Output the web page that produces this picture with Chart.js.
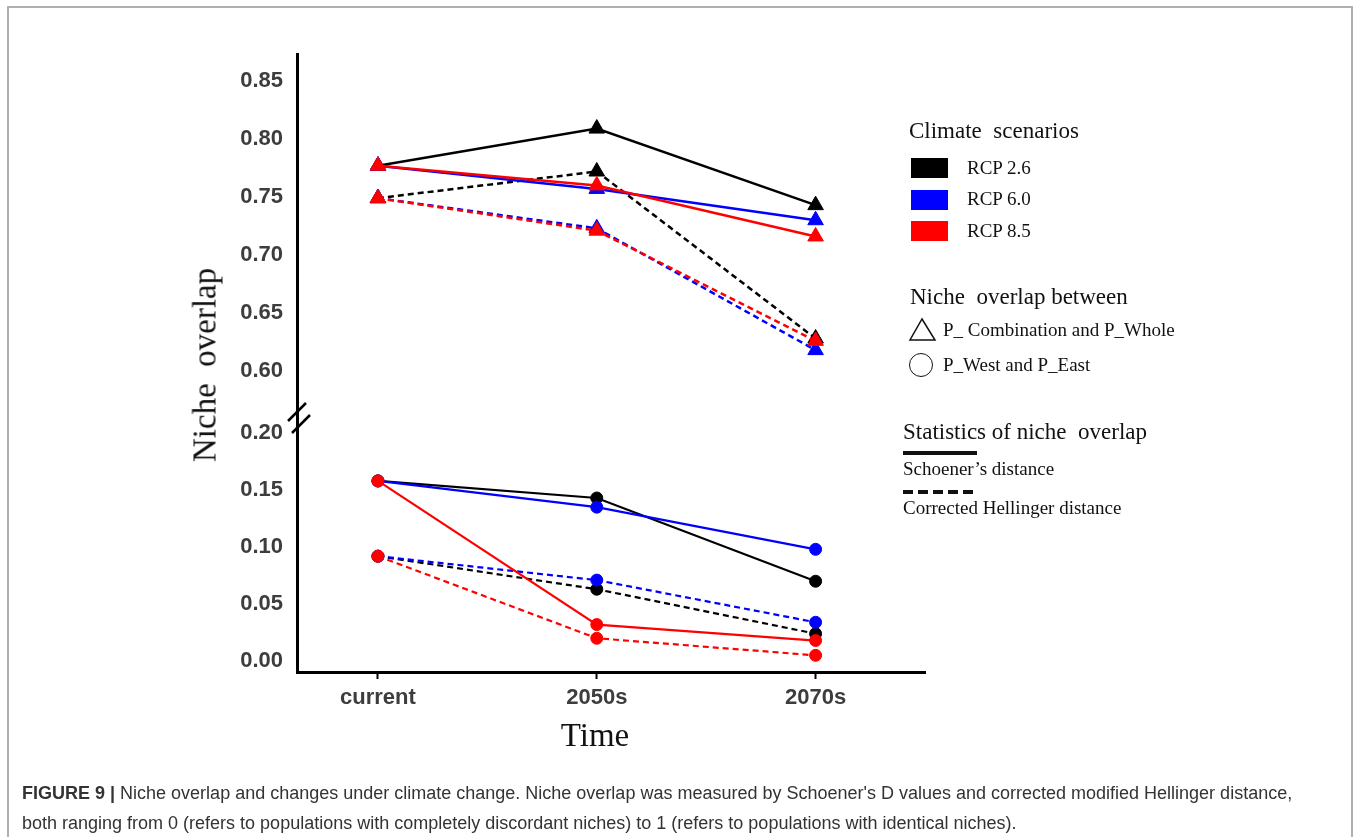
<!DOCTYPE html>
<html>
<head>
<meta charset="utf-8">
<script src="https://cdn.jsdelivr.net/npm/chart.js@4.4.1/dist/chart.umd.min.js"></script>
<style>
  body { margin: 0; background: #fff; width: 1354px; height: 837px; overflow: hidden; position: relative; }
  #frame { position: absolute; left: 7px; top: 6px; width: 1342px; height: 900px; border: 2px solid #b0b0b0; }
  #c { position: absolute; left: 0; top: 0; }
  .lg { position: absolute; white-space: pre; font-family: "Liberation Serif", "Times New Roman", serif; color: #111; line-height: 1; }
  .box { position: absolute; width: 37px; height: 20px; }
  #caption { position: absolute; left: 22px; top: 778px; font-family: "Liberation Sans", Arial, sans-serif; font-size: 18px; line-height: 30px; color: #333; white-space: nowrap; }
</style>
</head>
<body>
<div id="frame"></div>
<canvas id="c" width="1354" height="837"></canvas>

<!-- axis titles -->
<div class="lg" style="left:205px;top:365px;font-size:33px;transform:translate(-50%,-50%) rotate(-90deg);">Niche  overlap</div>
<div class="lg" style="left:595px;top:735px;font-size:33px;transform:translate(-50%,-50%);">Time</div>

<!-- legend -->
<div class="lg" style="left:909px;top:119px;font-size:23px;">Climate  scenarios</div>
<div class="box" style="left:911px;top:158px;background:#000;"></div>
<div class="box" style="left:911px;top:190px;background:#0000ff;"></div>
<div class="box" style="left:911px;top:221px;background:#ff0000;"></div>
<div class="lg" style="left:967px;top:158px;font-size:19px;">RCP 2.6</div>
<div class="lg" style="left:967px;top:189px;font-size:19px;">RCP 6.0</div>
<div class="lg" style="left:967px;top:221px;font-size:19px;">RCP 8.5</div>

<div class="lg" style="left:910px;top:285px;font-size:23px;">Niche  overlap between</div>
<svg style="position:absolute;left:908px;top:317px;" width="29" height="25"><polygon points="14,2 27,23 2,23" fill="none" stroke="#111" stroke-width="1.5"/></svg>
<div style="position:absolute;left:909px;top:353px;width:22px;height:22px;border:1.5px solid #111;border-radius:50%;"></div>
<div class="lg" style="left:943px;top:320px;font-size:19px;">P_ Combination and P_Whole</div>
<div class="lg" style="left:943px;top:355px;font-size:19px;">P_West and P_East</div>

<div class="lg" style="left:903px;top:420px;font-size:23px;">Statistics of niche  overlap</div>
<div style="position:absolute;left:903px;top:451px;width:74px;height:4px;background:#111;"></div>
<div class="lg" style="left:903px;top:459px;font-size:19px;">Schoener’s distance</div>
<svg style="position:absolute;left:903px;top:489px;" width="74" height="6"><line x1="0" y1="3" x2="74" y2="3" stroke="#111" stroke-width="4" stroke-dasharray="10 5"/></svg>
<div class="lg" style="left:903px;top:498px;font-size:19px;">Corrected Hellinger distance</div>

<div id="caption"><b>FIGURE 9</b> <b>|</b> Niche overlap and changes under climate change. Niche overlap was measured by Schoener's D values and corrected modified Hellinger distance,<br>both ranging from 0 (refers to populations with completely discordant niches) to 1 (refers to populations with identical niches).</div>

<script>
const periods = ["current", "2050s", "2070s"];
const upperTicks = [0.60, 0.65, 0.70, 0.75, 0.80, 0.85];
const lowerTicks = [0.00, 0.05, 0.10, 0.15, 0.20];

// P_Combination vs P_Whole (triangles, upper panel)
const combSchoener26 = [0.777, 0.809, 0.743];
const combSchoener60 = [0.777, 0.757, 0.730];
const combSchoener85 = [0.777, 0.760, 0.716];
const combHellinger26 = [0.749, 0.772, 0.628];
const combHellinger60 = [0.749, 0.723, 0.618];
const combHellinger85 = [0.749, 0.721, 0.626];

// P_West vs P_East (circles, lower panel)
const westSchoener26 = [0.158, 0.143, 0.070];
const westSchoener60 = [0.158, 0.135, 0.098];
const westSchoener85 = [0.158, 0.032, 0.018];
const westHellinger26 = [0.092, 0.063, 0.024];
const westHellinger60 = [0.092, 0.071, 0.034];
const westHellinger85 = [0.092, 0.020, 0.005];

const BLACK = "#000000", BLUE = "#0000ff", RED = "#ff0000";

function series(label, values, axis, color, dashed) {
    let tri = axis === "yTop";
    return {
        label: label,
        yAxisID: axis,
        data: values.map((v, i) => ({ x: i, y: v })),
        borderColor: color,
        backgroundColor: color,
        pointBackgroundColor: color,
        pointBorderColor: color,
        pointBorderWidth: 1,
        borderWidth: tri ? 2.5 : 2.2,
        borderDash: dashed ? [6, 4] : [],
        pointStyle: tri ? "triangle" : "circle",
        pointRadius: tri ? 9 : 6,
        tension: 0,
        fill: false
    };
}

// first dataset ends up on top, so red goes first
const datasets = [
    series("RCP 8.5 Schoener", combSchoener85, "yTop", RED, false),
    series("RCP 8.5 Hellinger", combHellinger85, "yTop", RED, true),
    series("RCP 6.0 Schoener", combSchoener60, "yTop", BLUE, false),
    series("RCP 6.0 Hellinger", combHellinger60, "yTop", BLUE, true),
    series("RCP 2.6 Schoener", combSchoener26, "yTop", BLACK, false),
    series("RCP 2.6 Hellinger", combHellinger26, "yTop", BLACK, true),
    series("RCP 8.5 Schoener", westSchoener85, "yBot", RED, false),
    series("RCP 8.5 Hellinger", westHellinger85, "yBot", RED, true),
    series("RCP 6.0 Schoener", westSchoener60, "yBot", BLUE, false),
    series("RCP 6.0 Hellinger", westHellinger60, "yBot", BLUE, true),
    series("RCP 2.6 Schoener", westSchoener26, "yBot", BLACK, false),
    series("RCP 2.6 Hellinger", westHellinger26, "yBot", BLACK, true)
];

const tickFont = { family: "'Liberation Sans', Arial, sans-serif", size: 22, weight: "bold" };
const tickColor = "#3d3d3d";

// the "//" mark where the y axis is cut
const axisBreak = {
    id: "axisBreak",
    afterDraw(chart) {
        let ctx = chart.ctx;
        let x = chart.scales.yTop.right;
        let y = chart.scales.yTop.bottom + 8;
        ctx.save();
        ctx.strokeStyle = "#000";
        ctx.lineWidth = 2.5;
        ctx.beginPath();
        ctx.moveTo(x - 9, y + 8); ctx.lineTo(x + 9, y - 10);
        ctx.moveTo(x - 5, y + 20); ctx.lineTo(x + 13, y + 2);
        ctx.stroke();
        ctx.restore();
    }
};

function yScale(ticks, min, max, weight, stackWeight) {
    return {
        type: "linear",
        position: "left",
        stack: "left",
        stackWeight: stackWeight,
        weight: weight,
        min: min,
        max: max,
        afterBuildTicks: s => { s.ticks = ticks.map(v => ({ value: v })); },
        afterFit: s => { s.width = 297; },
        grid: { display: false },
        border: { display: true, color: "#000", width: 3 },
        ticks: {
            callback: v => v.toFixed(2),
            color: tickColor,
            font: tickFont,
            padding: 6
        }
    };
}

new Chart(document.getElementById("c"), {
    type: "line",
    data: { datasets: datasets },
    options: {
        responsive: false,
        animation: false,
        layout: { padding: { left: 0, top: 54, right: 429, bottom: 125 } },
        plugins: {
            legend: { display: false },
            tooltip: { enabled: false }
        },
        scales: {
            x: {
                type: "linear",
                min: -0.37,
                max: 2.5,
                afterBuildTicks: s => { s.ticks = periods.map((p, i) => ({ value: i })); },
                afterFit: s => { s.height = 40; },
                grid: { display: true, drawOnChartArea: false, drawTicks: true, tickLength: 7, tickWidth: 2, tickColor: "#000" },
                border: { display: true, color: "#000", width: 3 },
                ticks: {
                    callback: v => periods[v],
                    color: tickColor,
                    font: tickFont,
                    padding: 6,
                    maxRotation: 0
                }
            },
            yTop: yScale(upperTicks, 0.5707, 0.8733, 1, 351),
            yBot: yScale(lowerTicks, -0.0096, 0.2246, 0, 267)
        }
    },
    plugins: [axisBreak]
});
</script>
</body>
</html>
